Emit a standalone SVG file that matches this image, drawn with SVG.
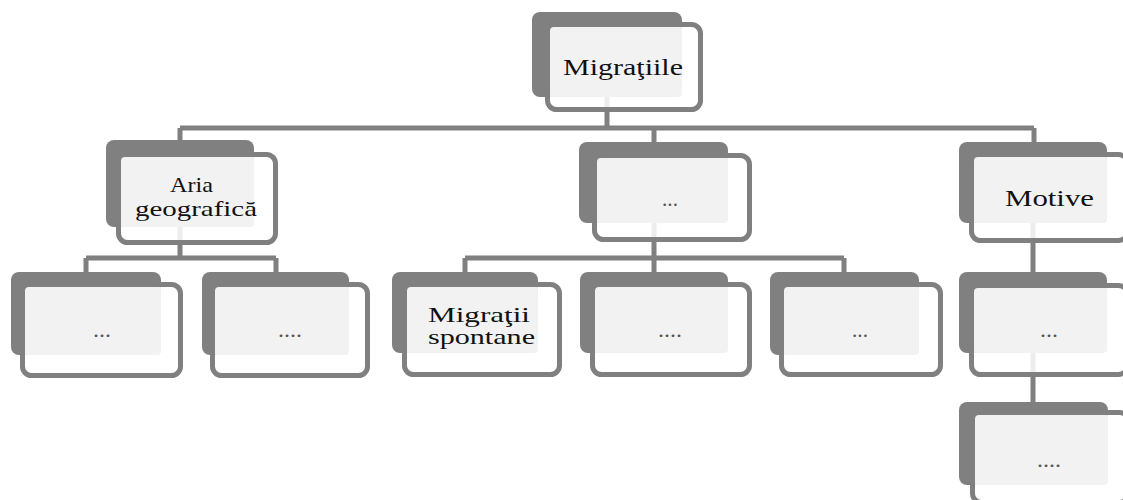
<svg xmlns="http://www.w3.org/2000/svg" width="1123" height="500" viewBox="0 0 1123 500">
  <style>
    .back { fill: #808080; }
    .front { fill: #ffffff; fill-opacity: 0.86; stroke: #808080; stroke-width: 5; }
    .face { fill: #f2f2f2; }
    .link { fill: none; stroke: #808080; stroke-width: 5; stroke-linecap: butt; stroke-linejoin: miter; }
    .label { font-family: "Liberation Serif", "Times New Roman", serif; font-size: 24px; fill: #111111; }
    .label2 { font-family: "Liberation Serif", "Times New Roman", serif; font-size: 21px; fill: #111111; }
    .dots { font-family: "Liberation Serif", "Times New Roman", serif; font-size: 22px; fill: #555555; }
  </style>
  <rect width="1123" height="500" fill="#ffffff"/>

  <!-- tree connectors (drawn beneath the boxes) -->
  <g id="connectors">
    <path class="link" d="M607,97 V128 M180,128 H1034 M180,128 V140 M654,128 V142 M1034,128 V142"/>
    <path class="link" d="M180,227 V258 M86,258 H276 M86,258 V272 M276,258 V272"/>
    <path class="link" d="M654,223 V258 M465,258 H844 M465,258 V272 M654,258 V272 M844,258 V272"/>
    <path class="link" d="M1033,223 V272 M1033,353 V402"/>
  </g>

  <!-- root -->
  <g id="node-root">
    <rect class="back" x="532" y="12" width="150" height="85" rx="8"/>
    <rect class="front" x="547.5" y="24.5" width="153" height="85" rx="9"/>
    <rect class="face" x="550" y="27" width="132" height="70" rx="4"/>
    <text class="label" x="563" y="75" textLength="120" lengthAdjust="spacingAndGlyphs">Migraţiile</text>
  </g>

  <!-- level 1 -->
  <g id="node-aria">
    <rect class="back" x="106" y="140" width="148" height="87" rx="8"/>
    <rect class="front" x="118.5" y="154.5" width="157" height="88" rx="9"/>
    <rect class="face" x="121" y="157" width="133" height="70" rx="4"/>
    <text class="label2" x="170" y="192" textLength="43" lengthAdjust="spacingAndGlyphs">Aria</text>
    <text class="label2" x="135" y="216" textLength="122" lengthAdjust="spacingAndGlyphs">geografică</text>
  </g>

  <g id="node-mid">
    <rect class="back" x="579" y="142" width="149" height="81" rx="8"/>
    <rect class="front" x="594.5" y="155.5" width="155" height="84" rx="9"/>
    <rect class="face" x="597" y="158" width="131" height="65" rx="4"/>
    <text class="dots" x="662" y="206" textLength="16" lengthAdjust="spacingAndGlyphs">...</text>
  </g>

  <g id="node-motive">
    <rect class="back" x="959" y="142" width="148" height="81" rx="8"/>
    <rect class="front" x="971.5" y="154.5" width="156" height="86" rx="9"/>
    <rect class="face" x="974" y="157" width="133" height="66" rx="4"/>
    <text class="label" x="1005" y="206" textLength="89" lengthAdjust="spacingAndGlyphs">Motive</text>
  </g>

  <!-- level 2 under "Aria geografică" -->
  <g id="node-a1">
    <rect class="back" x="11" y="272" width="150" height="83" rx="8"/>
    <rect class="front" x="22.5" y="284.5" width="158" height="91" rx="9"/>
    <rect class="face" x="25" y="287" width="136" height="68" rx="4"/>
    <text class="dots" x="93" y="337" textLength="18" lengthAdjust="spacingAndGlyphs">...</text>
  </g>

  <g id="node-a2">
    <rect class="back" x="202" y="272" width="147" height="83" rx="8"/>
    <rect class="front" x="212.5" y="284.5" width="155" height="91" rx="9"/>
    <rect class="face" x="215" y="287" width="134" height="68" rx="4"/>
    <text class="dots" x="278" y="337" textLength="24" lengthAdjust="spacingAndGlyphs">....</text>
  </g>

  <!-- level 2 under the middle box -->
  <g id="node-m1">
    <rect class="back" x="392" y="272" width="146" height="81" rx="8"/>
    <rect class="front" x="404.5" y="284.5" width="155" height="90" rx="9"/>
    <rect class="face" x="407" y="287" width="131" height="66" rx="4"/>
    <text class="label2" x="428" y="322" textLength="102" lengthAdjust="spacingAndGlyphs">Migraţii</text>
    <text class="label2" x="428" y="344" textLength="107" lengthAdjust="spacingAndGlyphs">spontane</text>
  </g>

  <g id="node-m2">
    <rect class="back" x="580" y="272" width="148" height="81" rx="8"/>
    <rect class="front" x="592.5" y="284.5" width="157" height="90" rx="9"/>
    <rect class="face" x="595" y="287" width="133" height="66" rx="4"/>
    <text class="dots" x="658" y="337" textLength="24" lengthAdjust="spacingAndGlyphs">....</text>
  </g>

  <g id="node-m3">
    <rect class="back" x="770" y="272" width="149" height="83" rx="8"/>
    <rect class="front" x="781.5" y="284.5" width="159" height="90" rx="9"/>
    <rect class="face" x="784" y="287" width="135" height="68" rx="4"/>
    <text class="dots" x="852" y="337" textLength="16" lengthAdjust="spacingAndGlyphs">...</text>
  </g>

  <!-- column under "Motive" -->
  <g id="node-r2">
    <rect class="back" x="959" y="272" width="148" height="81" rx="8"/>
    <rect class="front" x="971.5" y="285.5" width="156" height="89" rx="9"/>
    <rect class="face" x="974" y="288" width="133" height="65" rx="4"/>
    <text class="dots" x="1040" y="337" textLength="18" lengthAdjust="spacingAndGlyphs">...</text>
  </g>

  <g id="node-r3">
    <rect class="back" x="959" y="402" width="149" height="83" rx="8"/>
    <rect class="front" x="972.5" y="412.5" width="156" height="90" rx="9"/>
    <rect class="face" x="975" y="415" width="133" height="70" rx="4"/>
    <text class="dots" x="1037" y="467" textLength="24" lengthAdjust="spacingAndGlyphs">....</text>
  </g>
</svg>
